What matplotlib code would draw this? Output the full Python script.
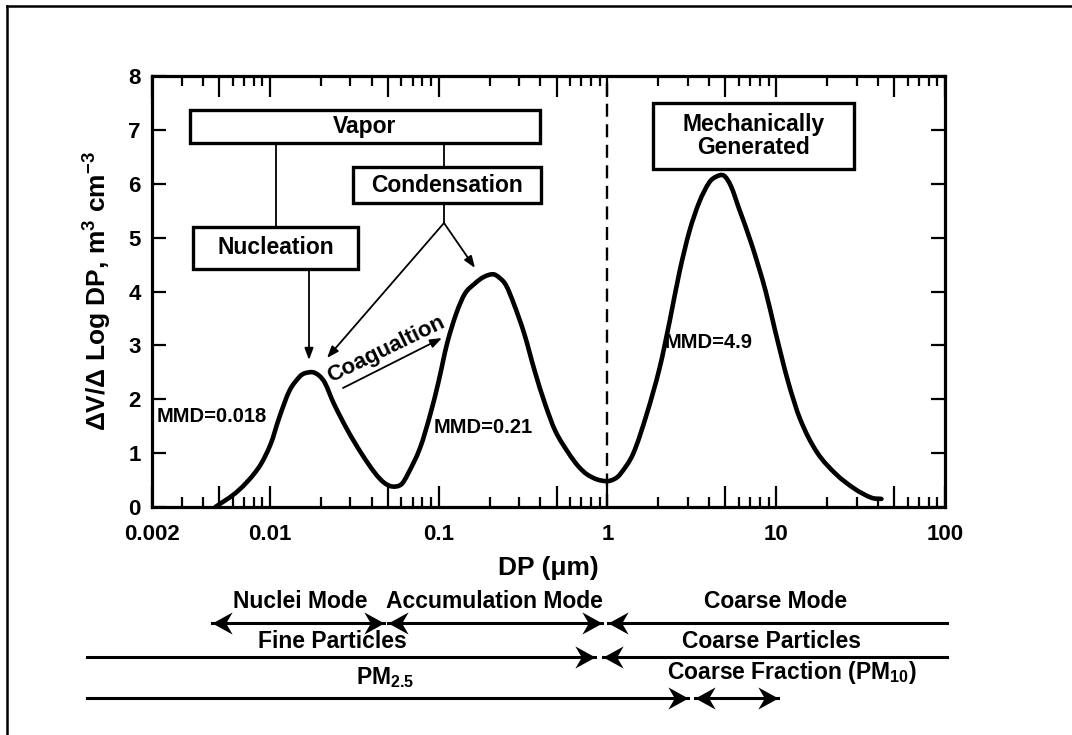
import matplotlib
matplotlib.use("Agg")
import numpy as np
import matplotlib.pyplot as plt
from matplotlib.patches import Rectangle, FancyArrowPatch, ArrowStyle, PathPatch
from matplotlib.lines import Line2D
from matplotlib.path import Path
from matplotlib.ticker import FixedLocator, NullLocator, FuncFormatter

plt.rcParams['font.family'] = ['Liberation Sans', 'DejaVu Sans']
plt.rcParams['font.weight'] = 'bold'
plt.rcParams['mathtext.fontset'] = 'custom'
plt.rcParams['mathtext.rm'] = 'Liberation Sans:bold'
plt.rcParams['mathtext.it'] = 'Liberation Sans:bold'
plt.rcParams['mathtext.bf'] = 'Liberation Sans:bold'
plt.rcParams['mathtext.default'] = 'rm'

# Volume size distribution: particle diameter (um) and dV/dlogDp
diameter = [0.00475, 0.00647, 0.00857, 0.0101, 0.01135, 0.01306, 0.0150, 0.0160,
            0.018, 0.0197, 0.0212, 0.0239, 0.0290, 0.0349, 0.0419, 0.0475, 0.0532,
            0.0600, 0.0656, 0.0776, 0.0893, 0.100, 0.112, 0.127, 0.143, 0.164,
            0.185, 0.21, 0.228, 0.250, 0.278, 0.321, 0.370, 0.426, 0.491, 0.591,
            0.670, 0.753, 0.870, 1.0, 1.10, 1.19, 1.42, 1.71, 2.04, 2.34, 2.67,
            3.06, 3.50, 4.0, 4.4, 4.9, 5.4, 6.0, 7.14, 8.63, 9.87, 11.7, 13.9,
            17.4, 22.6, 29.4, 36.8, 42.0]
volume = [0.0, 0.30, 0.73, 1.17, 1.66, 2.16, 2.42, 2.48,
          2.50, 2.43, 2.30, 1.92, 1.41, 0.99, 0.63, 0.45, 0.38,
          0.42, 0.61, 1.10, 1.73, 2.34, 3.03, 3.59, 3.96, 4.15,
          4.27, 4.32, 4.26, 4.12, 3.78, 3.22, 2.53, 1.92, 1.41, 0.99,
          0.76, 0.61, 0.51, 0.48, 0.52, 0.61, 0.99, 1.73, 2.59, 3.46, 4.36,
          5.12, 5.66, 6.02, 6.13, 6.15, 5.95, 5.55, 4.88, 4.02, 3.26, 2.35, 1.62,
          1.02, 0.61, 0.33, 0.17, 0.15]

x_ticks_labeled = [0.002, 0.01, 0.1, 1, 10, 100]
x_ticks_long = [0.005, 0.05, 0.5, 5, 50]
x_ticks_short = [0.003, 0.004, 0.006, 0.007, 0.008, 0.009,
                 0.02, 0.03, 0.04, 0.06, 0.07, 0.08, 0.09,
                 0.2, 0.3, 0.4, 0.6, 0.7, 0.8, 0.9,
                 2, 3, 4, 6, 7, 8, 9,
                 20, 30, 40, 60, 70, 80, 90]
y_ticks = [0, 1, 2, 3, 4, 5, 6, 7, 8]
fine_boundary = 1.0

W, H = 1072, 735
fig = plt.figure(figsize=(W / 100, H / 100), dpi=100)
fig.patch.set_facecolor('white')


def fx(x):
    return x / W


def fy(y):
    return 1 - y / H


ax = fig.add_axes([fx(152), fy(507), (945 - 152) / W, (507 - 76) / H])
ax.set_xscale('log')
ax.set_xlim(0.002, 100)
ax.set_ylim(0, 8)


def smooth_log_path(xs, ys):
    """Cubic Hermite curve through the points, built in log10(x) space."""
    u = np.log10(np.asarray(xs, float))
    y = np.asarray(ys, float)
    n = len(u)
    m = np.empty(n)
    m[0] = (y[1] - y[0]) / (u[1] - u[0])
    m[-1] = (y[-1] - y[-2]) / (u[-1] - u[-2])
    for i in range(1, n - 1):
        m[i] = (y[i + 1] - y[i - 1]) / (u[i + 1] - u[i - 1])
    verts = [(10 ** u[0], y[0])]
    codes = [Path.MOVETO]
    for i in range(n - 1):
        h = u[i + 1] - u[i]
        c1 = (u[i] + h / 3, y[i] + m[i] * h / 3)
        c2 = (u[i + 1] - h / 3, y[i + 1] - m[i + 1] * h / 3)
        verts += [(10 ** c1[0], c1[1]), (10 ** c2[0], c2[1]),
                  (10 ** u[i + 1], y[i + 1])]
        codes += [Path.CURVE4] * 3
    return Path(verts, codes)


ax.add_patch(PathPatch(smooth_log_path(diameter, volume), fill=False,
                       edgecolor='black', lw=3.3, capstyle='round',
                       joinstyle='round', zorder=3))
ax.axvline(fine_boundary, color='black', lw=1.7, dashes=(5.5, 3.2), zorder=2)

for s in ax.spines.values():
    s.set_linewidth(2.3)

major_x = sorted(x_ticks_labeled + x_ticks_long)
ax.xaxis.set_major_locator(FixedLocator(major_x))
ax.xaxis.set_minor_locator(FixedLocator(x_ticks_short))


def xfmt(v, pos):
    for t in x_ticks_labeled:
        if abs(v - t) / t < 1e-6:
            return f"{t:g}"
    return ""


ax.xaxis.set_major_formatter(FuncFormatter(xfmt))
ax.xaxis.set_minor_formatter(FuncFormatter(lambda v, p: ""))
ax.set_yticks(y_ticks)
ax.yaxis.set_minor_locator(NullLocator())

ax.tick_params(axis='x', which='major', direction='in', length=15, width=1.6,
               top=True, bottom=True, labelsize=16, pad=12)
ax.tick_params(axis='x', which='minor', direction='in', length=7, width=1.6,
               top=True, bottom=True)
ax.tick_params(axis='y', which='major', direction='in', length=10, width=1.6,
               left=True, right=True, labelsize=16, pad=8)
for lab in ax.get_xticklabels() + ax.get_yticklabels():
    lab.set_fontweight('bold')

ax.set_xlabel('DP (\u03bcm)', fontsize=19, fontweight='bold', labelpad=8)
ax.set_ylabel('\u0394V/\u0394 Log DP, m$^{3}$ cm$^{-3}$', fontsize=19,
              fontweight='bold', labelpad=10)

# process boxes (pixel layout)
boxes = [
    (190, 110, 540, 143, 'Vapor'),
    (353, 167, 541, 203, 'Condensation'),
    (193, 227, 358, 269, 'Nucleation'),
    (653, 103, 854, 169, 'Mechanically\nGenerated'),
]
for x0, y0, x1, y1, label in boxes:
    fig.add_artist(Rectangle((fx(x0), fy(y1)), fx(x1) - fx(x0), fy(y0) - fy(y1),
                             transform=fig.transFigure, facecolor='white',
                             edgecolor='black', lw=2.4, zorder=5))
    fig.text(fx((x0 + x1) / 2), fy((y0 + y1) / 2), label, ha='center',
             va='center', fontsize=16.5, fontweight='bold', zorder=6,
             linespacing=1.0)


def fline(p, q, lw=1.3):
    fig.add_artist(Line2D([fx(p[0]), fx(q[0])], [fy(p[1]), fy(q[1])],
                          transform=fig.transFigure, color='black', lw=lw,
                          zorder=4))


def farrow(p, q, style, lw=1.3, hl=7, hw=2.6, z=4):
    st = ArrowStyle(style, head_length=hl, head_width=hw)
    fig.add_artist(FancyArrowPatch((fx(p[0]), fy(p[1])), (fx(q[0]), fy(q[1])),
                                   transform=fig.transFigure, arrowstyle=st,
                                   mutation_scale=1, color='black', lw=lw,
                                   shrinkA=0, shrinkB=0, zorder=z))


fline((276, 143), (276, 227))
fline((444, 143), (444, 167))
fline((444, 203), (444, 223))
farrow((444, 223), (327, 358), '-|>')
farrow((444, 223), (475, 268), '-|>')
farrow((309, 269), (309, 360), '-|>')
farrow((343, 388), (442, 338), '-|>')

fig.text(fx(386), fy(349), 'Coagualtion', rotation=26, ha='center',
         va='center', fontsize=16, fontweight='bold', rotation_mode='anchor')

fig.text(fx(157), fy(416), 'MMD=0.018', ha='left', va='center', fontsize=14.5,
         fontweight='bold')
fig.text(fx(434), fy(427), 'MMD=0.21', ha='left', va='center', fontsize=14.5,
         fontweight='bold')
fig.text(fx(665), fy(343), 'MMD=4.9', ha='left', va='center', fontsize=14.5,
         fontweight='bold')

# barbed arrowheads for the size-range bars (tip at the origin)
head_right = Path([(0, 0), (-1, 0.55), (-0.68, 0), (-1, -0.55), (0, 0)],
                  [Path.MOVETO, Path.LINETO, Path.LINETO, Path.LINETO,
                   Path.CLOSEPOLY])
head_left = Path([(0, 0), (1, 0.55), (0.68, 0), (1, -0.55), (0, 0)],
                 [Path.MOVETO, Path.LINETO, Path.LINETO, Path.LINETO,
                  Path.CLOSEPOLY])


def bar(x0, x1, y, left=False, right=False, lw=2.2):
    fig.add_artist(Line2D([fx(x0), fx(x1)], [fy(y), fy(y)],
                          transform=fig.transFigure, color='black', lw=lw))
    if left:
        fig.add_artist(Line2D([fx(x0)], [fy(y)], transform=fig.transFigure,
                              marker=head_left, markersize=29, color='black',
                              markeredgewidth=0, linestyle='none'))
    if right:
        fig.add_artist(Line2D([fx(x1)], [fy(y)], transform=fig.transFigure,
                              marker=head_right, markersize=29, color='black',
                              markeredgewidth=0, linestyle='none'))


bar(212, 384, 623, left=True, right=True)
bar(388, 602, 623, left=True, right=True)
bar(608, 947, 623, left=True)
bar(87, 595, 657, right=True)
bar(603, 947, 657, left=True)
bar(87, 688, 698, right=True)
bar(695, 778, 698, left=True, right=True)

bfs = 16.5
fig.text(fx(300), fy(601), 'Nuclei Mode', ha='center', va='center',
         fontsize=bfs, fontweight='bold')
fig.text(fx(494), fy(601), 'Accumulation Mode', ha='center', va='center',
         fontsize=bfs, fontweight='bold')
fig.text(fx(776), fy(601), 'Coarse Mode', ha='center', va='center',
         fontsize=bfs, fontweight='bold')
fig.text(fx(332), fy(641), 'Fine Particles', ha='center', va='center',
         fontsize=bfs, fontweight='bold')
fig.text(fx(771), fy(641), 'Coarse Particles', ha='center', va='center',
         fontsize=bfs, fontweight='bold')
fig.text(fx(385), fy(678), 'PM$_{2.5}$', ha='center', va='center',
         fontsize=bfs, fontweight='bold')
fig.text(fx(792), fy(673), 'Coarse Fraction (PM$_{10}$)', ha='center',
         va='center', fontsize=bfs, fontweight='bold')

# page frame
fig.add_artist(Line2D([fx(7), fx(7)], [fy(6), fy(735)], transform=fig.transFigure,
                      color='black', lw=1.8))
fig.add_artist(Line2D([fx(7), fx(1072)], [fy(6), fy(6)], transform=fig.transFigure,
                      color='black', lw=1.8))

fig.savefig('out.png', dpi=100, facecolor='white')
